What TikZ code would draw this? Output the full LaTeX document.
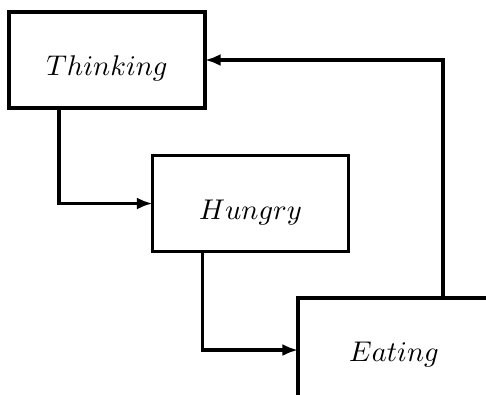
\documentclass[tikz,border=0pt]{standalone}
\usetikzlibrary{positioning,arrows.meta,calc}

\begin{document}
\begin{tikzpicture}[x=0.0135cm,y=-0.0135cm,font=\fontsize{10.5}{12}\selectfont,
  txt/.style={inner sep=0pt,text height=13.9pt,text depth=2pt},
  st/.style={draw,line width=1.35pt,minimum width=2.646cm,minimum height=1.296cm,outer sep=0pt,txt},
  ar/.style={-{Latex[length=6pt,width=4.6pt]},line width=1.35pt}]
\useasboundingbox (0,0) rectangle (486,394);
\clip (0,0) rectangle (486,394);
\node[st] (th) at (107,60) {$Thinking$};
\node[st] (hu) at (250.5,203.5) {$Hungry$};
% Eating runs past the page edge
\node[st,minimum width=3.24cm,minimum height=1.89cm] (ea) at (418,368) {};
\node[txt] (eat) at ($(ea.north west)+(96,48)$) {$Eating$};
\draw[ar] ($(th.south west)+(50,0)$) |- (hu.west);
\draw[ar] ($(hu.south west)+(50,0)$) |- ($(ea.north west)+(0,52)$);
\draw[ar] ($(ea.north west)+(145,0)$) |- (th.east);
\end{tikzpicture}
\end{document}
